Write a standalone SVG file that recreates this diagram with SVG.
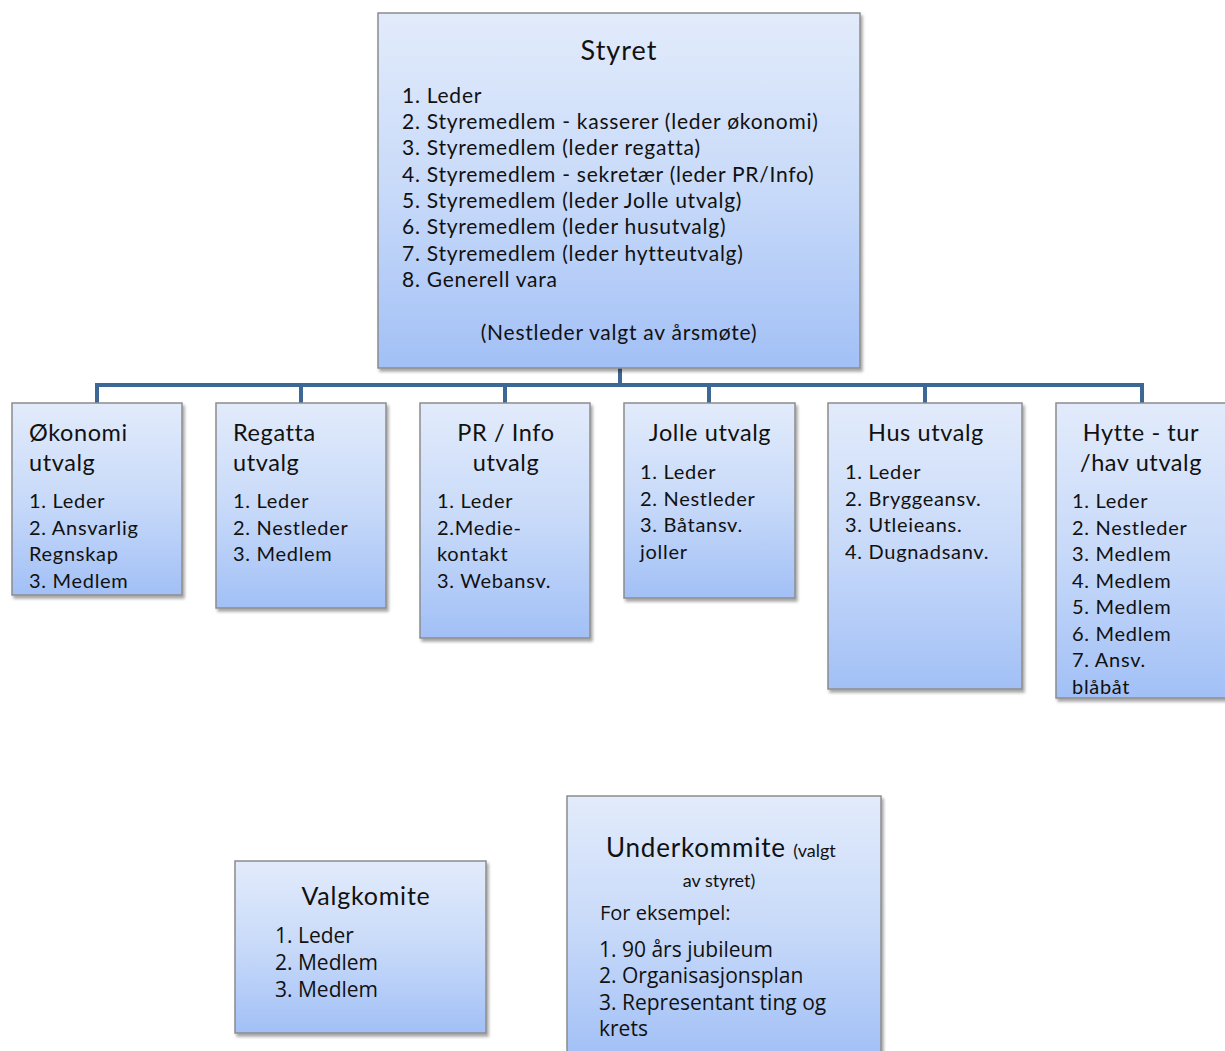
<svg xmlns="http://www.w3.org/2000/svg" width="1225" height="1051" viewBox="0 0 1225 1051">
<defs>
<linearGradient id="g" x1="0" y1="0" x2="0" y2="1">
<stop offset="0" stop-color="#e2ebfb"/>
<stop offset="0.5" stop-color="#c8daf9"/>
<stop offset="1" stop-color="#a2c0f6"/>
</linearGradient>
<filter id="sh" x="-10%" y="-10%" width="120%" height="120%">
<feDropShadow dx="2" dy="3" stdDeviation="1.5" flood-color="#000" flood-opacity="0.35"/>
</filter>
</defs>
<style>
.box{fill:url(#g);stroke:#8c8c8c;stroke-width:1.5;filter:url(#sh)}
text{font-family:Lato,"Open Sans","Liberation Sans",sans-serif;fill:#111}
.t{font-size:23.5px;letter-spacing:0.6px}
.l{font-size:20px;letter-spacing:0.7px}
.s{font-size:21px;letter-spacing:0.75px}
.c{text-anchor:middle}
.n{font-family:"Liberation Sans Narrow","Open Sans",Lato,sans-serif}
.conn{fill:none;stroke:#3d6794;stroke-width:4}
</style>
<rect width="1225" height="1051" fill="#fff"/>
<g id="connectors">
<path class="conn" d="M620 368 V385 M97 403 V385 H1142 V403 M301 385 V403 M505 385 V403 M709 385 V403 M925 385 V403"/>
</g>
<g id="styret">
<rect class="box" x="378" y="13" width="482" height="355"/>
<text class="c" x="619" y="60" font-size="27" letter-spacing="1">Styret</text>
<text class="s" x="402" y="103">1. Leder</text>
<text class="s" x="402" y="129">2. Styremedlem - kasserer (leder økonomi)</text>
<text class="s" x="402" y="155">3. Styremedlem (leder regatta)</text>
<text class="s" x="402" y="182">4. Styremedlem - sekretær (leder PR/Info)</text>
<text class="s" x="402" y="208">5. Styremedlem (leder Jolle utvalg)</text>
<text class="s" x="402" y="234">6. Styremedlem (leder husutvalg)</text>
<text class="s" x="402" y="261">7. Styremedlem (leder hytteutvalg)</text>
<text class="s" x="402" y="287">8. Generell vara</text>
<text class="s c" x="619" y="340">(Nestleder valgt av årsmøte)</text>
</g>
<g id="okonomi">
<rect class="box" x="12" y="403" width="170" height="192"/>
<text class="t" x="29" y="441">Økonomi</text>
<text class="t" x="29" y="471">utvalg</text>
<text class="l" x="29" y="508">1. Leder</text>
<text class="l" x="29" y="535">2. Ansvarlig</text>
<text class="l" x="29" y="561">Regnskap</text>
<text class="l" x="29" y="588">3. Medlem</text>
</g>
<g id="regatta">
<rect class="box" x="216" y="403" width="170" height="205"/>
<text class="t" x="233" y="441">Regatta</text>
<text class="t" x="233" y="471">utvalg</text>
<text class="l" x="233" y="508">1. Leder</text>
<text class="l" x="233" y="535">2. Nestleder</text>
<text class="l" x="233" y="561">3. Medlem</text>
</g>
<g id="prinfo">
<rect class="box" x="420" y="403" width="170" height="235"/>
<text class="t c" x="506" y="441">PR / Info</text>
<text class="t c" x="506" y="471">utvalg</text>
<text class="l" x="437" y="508">1. Leder</text>
<text class="l" x="437" y="535">2.Medie-</text>
<text class="l" x="437" y="561">kontakt</text>
<text class="l" x="437" y="588">3. Webansv.</text>
</g>
<g id="jolle">
<rect class="box" x="624" y="403" width="171" height="195"/>
<text class="t c" x="710" y="441">Jolle utvalg</text>
<text class="l" x="640" y="479">1. Leder</text>
<text class="l" x="640" y="506">2. Nestleder</text>
<text class="l" x="640" y="532">3. Båtansv.</text>
<text class="l" x="640" y="559">joller</text>
</g>
<g id="hus">
<rect class="box" x="828" y="403" width="194" height="286"/>
<text class="t c" x="926" y="441">Hus utvalg</text>
<text class="l" x="845" y="479">1. Leder</text>
<text class="l" x="845" y="506">2. Bryggeansv.</text>
<text class="l" x="845" y="532">3. Utleieans.</text>
<text class="l" x="845" y="559">4. Dugnadsanv.</text>
</g>
<g id="hytte">
<rect class="box" x="1056" y="403" width="172" height="295"/>
<text class="t c" x="1141" y="441">Hytte - tur</text>
<text class="t c" x="1141" y="471">/hav utvalg</text>
<text class="l" x="1072" y="508">1. Leder</text>
<text class="l" x="1072" y="535">2. Nestleder</text>
<text class="l" x="1072" y="561">3. Medlem</text>
<text class="l" x="1072" y="588">4. Medlem</text>
<text class="l" x="1072" y="614">5. Medlem</text>
<text class="l" x="1072" y="641">6. Medlem</text>
<text class="l" x="1072" y="667">7. Ansv.</text>
<text class="l" x="1072" y="694">blåbåt</text>
</g>
<g id="valgkomite">
<rect class="box" x="235" y="861" width="251" height="172"/>
<text class="c" x="366" y="905" font-size="25" letter-spacing="0.8">Valgkomite</text>
<text class="n" x="275" y="943" font-size="21">1. Leder</text>
<text class="n" x="275" y="970" font-size="21">2. Medlem</text>
<text class="n" x="275" y="997" font-size="21">3. Medlem</text>
</g>
<g id="underkommite">
<rect class="box" x="567" y="796" width="314" height="262"/>
<text x="606" y="857" font-size="26" letter-spacing="0.8">Underkommite <tspan font-size="18" letter-spacing="0">(valgt</tspan></text>
<text class="c" x="719" y="887" font-size="18">av styret)</text>
<text class="n" x="600" y="920" font-size="20">For eksempel:</text>
<text class="n" x="599" y="957" font-size="21">1. 90 års jubileum</text>
<text class="n" x="599" y="983" font-size="21">2. Organisasjonsplan</text>
<text class="n" x="599" y="1010" font-size="21">3. Representant ting og</text>
<text class="n" x="599" y="1036" font-size="21">krets</text>
</g>
</svg>
